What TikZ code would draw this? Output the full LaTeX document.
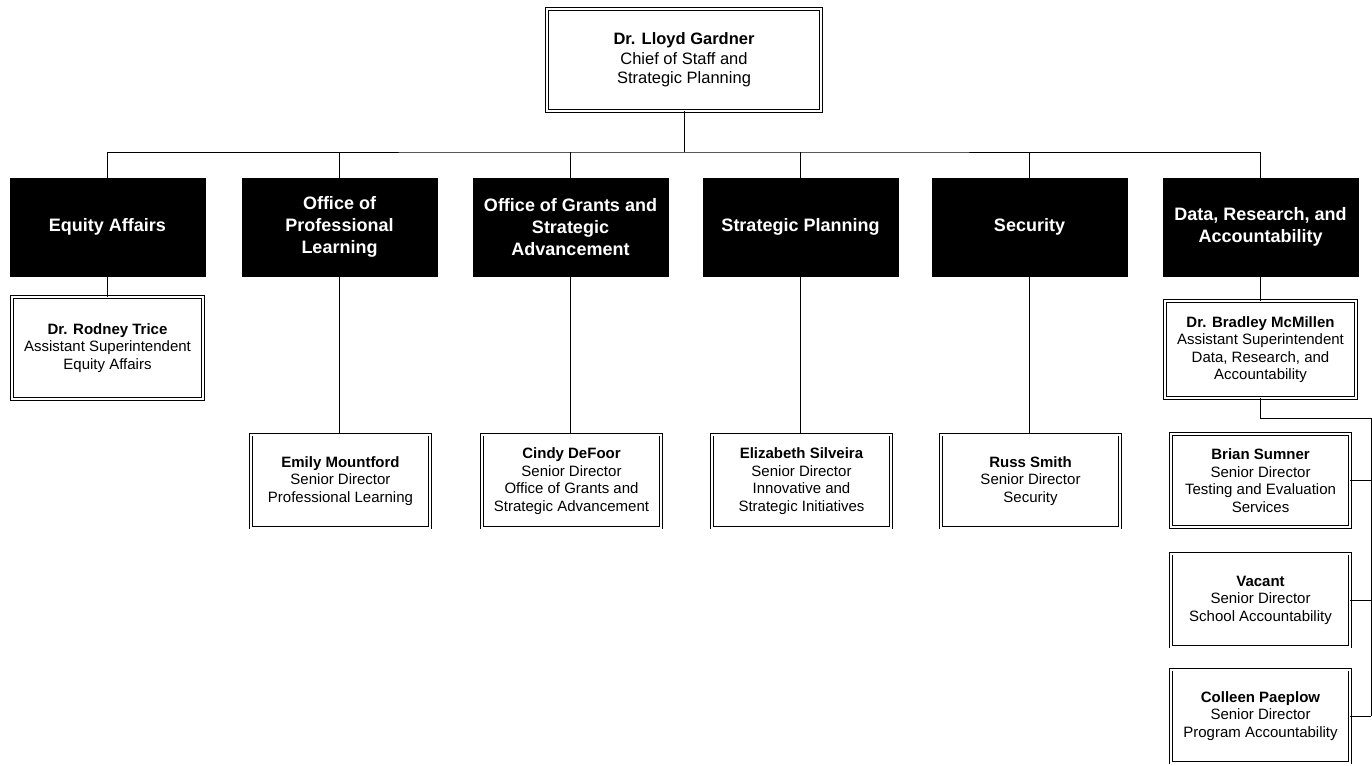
\documentclass[tikz,border=0pt]{standalone}
\usepackage{fontspec}
\setmainfont{Liberation Sans}
\usetikzlibrary{calc}

\begin{document}
\begin{tikzpicture}[x=1pt,y=-1pt]
                      \tikzstyle{dept}=[rectangle,draw=black,fill=black,text=white,align=center,inner sep=2pt,minimum width=195pt,minimum height=98pt,font=\fontsize{18}{22}\selectfont\bfseries]
                      \tikzstyle{person}=[rectangle,draw=black,line width=0.9pt,double=white,double distance=2pt,fill=white,align=center,inner sep=2pt,minimum width=179pt,minimum height=93pt,font=\fontsize{15}{17.5}\selectfont]
                      \tikzstyle{wide}=[minimum width=191pt]
                      \tikzstyle{link}=[line width=0.9pt]
                      \useasboundingbox (0,0) rectangle (1372,765);
                      \node[person,minimum width=274pt,minimum height=102pt,font=\fontsize{16.5}{19.5}\selectfont] (chief) at (684,60) {\textbf{Dr. Lloyd Gardner}\\Chief of Staff and\\Strategic Planning};
                      \coordinate (bus) at (684,152);
                      \coordinate (rt) at (1371,418);
                      \node[dept] (equity) at (107.5,227) {Equity Affairs};
                      \node[dept] (learning) at (339.5,227) {Office of\\Professional\\Learning};
                      \node[dept] (grants) at (570.5,227) {Office of Grants and\\Strategic\\Advancement};
                      \node[dept] (planning) at (800.5,227) {Strategic Planning};
                      \node[dept] (security) at (1029.5,227) {Security};
                      \node[dept] (data) at (1260.5,227) {Data, Research, and\\Accountability};
                      \node[person,wide,minimum height=102pt] (trice) at (107.5,348) {\textbf{Dr. Rodney Trice}\\Assistant Superintendent\\Equity Affairs};
                      \node[person] (mountford) at (340.5,481) {\textbf{Emily Mountford}\\Senior Director\\Professional Learning};
                      \node[person] (defoor) at (571.5,481) {\textbf{Cindy DeFoor}\\Senior Director\\Office of Grants and\\Strategic Advancement};
                      \node[person] (silveira) at (801.5,481) {\textbf{Elizabeth Silveira}\\Senior Director\\Innovative and\\Strategic Initiatives};
                      \node[person] (smith) at (1030.5,481) {\textbf{Russ Smith}\\Senior Director\\Security};
                      \node[person,wide,minimum height=97pt] (mcmillen) at (1260.5,349.5) {\textbf{Dr. Bradley McMillen}\\Assistant Superintendent\\Data, Research, and\\Accountability};
                      \node[person] (sumner) at (1260.5,480.5) {\textbf{Brian Sumner}\\Senior Director\\Testing and Evaluation\\Services};
                      \node[person] (vacant) at (1260.5,600) {\textbf{Vacant}\\Senior Director\\School Accountability};
                      \node[person] (paeplow) at (1260.5,716) {\textbf{Colleen Paeplow}\\Senior Director\\Program Accountability};
                      \draw[link] (chief.south) -- (bus);
                      \draw[link] (equity.north) |- (bus) -| (data.north);
                      \foreach \d in {learning,grants,planning,security}
                          \draw[link] (\d.north) -- (\d.north |- bus);
                      \draw[link] (equity.south) -- (trice.north);
                      \draw[link] (learning.south) -- (learning.south |- mountford.north);
                      \draw[link] (grants.south) -- (grants.south |- defoor.north);
                      \draw[link] (planning.south) -- (planning.south |- silveira.north);
                      \draw[link] (security.south) -- (security.south |- smith.north);
                      \draw[link] (data.south) -- (mcmillen.north);
                      \draw[link] (mcmillen.south) |- (rt) -- (rt |- paeplow.east);
                      \foreach \p in {sumner,vacant,paeplow}
                          \draw[link] (\p.east) -- (\p.east -| rt);
                  \end{tikzpicture}
\end{document}
